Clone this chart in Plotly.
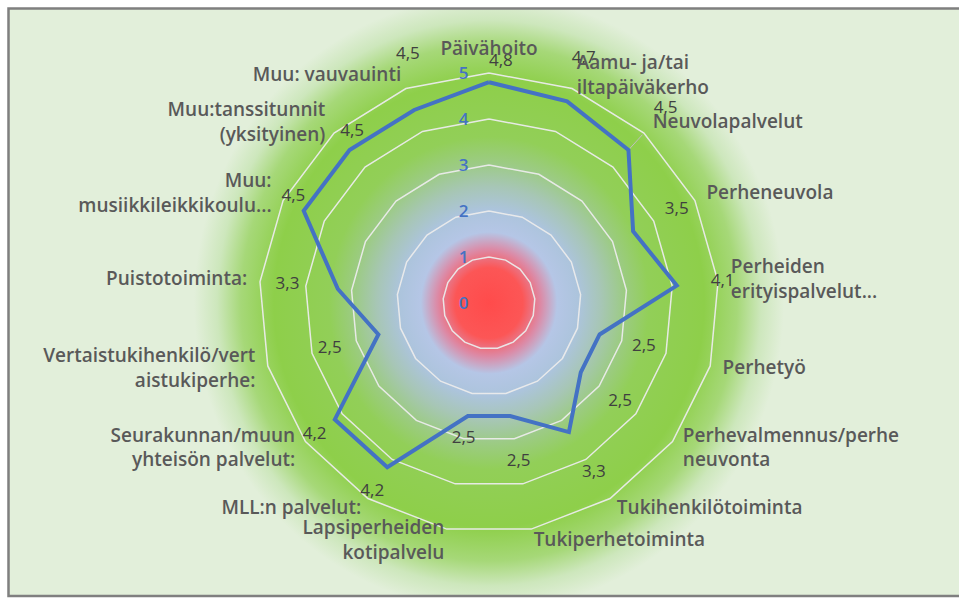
import base64
import plotly.graph_objects as go

categories = [
    "Päivähoito",
    "Aamu- ja/tai<br>iltapäiväkerho",
    "Neuvolapalvelut",
    "Perheneuvola",
    "Perheiden<br>erityispalvelut...",
    "Perhetyö",
    "Perhevalmennus/perhe<br>neuvonta",
    "Tukihenkilötoiminta",
    "Tukiperhetoiminta",
    "Lapsiperheiden<br>kotipalvelu",
    "MLL:n palvelut:",
    "Seurakunnan/muun<br>yhteisön palvelut:",
    "Vertaistukihenkilö/vert<br>aistukiperhe:",
    "Puistotoiminta:",
    "Muu:<br>musiikkileikkikoulu...",
    "Muu:tanssitunnit<br>(yksityinen)",
    "Muu: vauvauinti",
]
values = [4.8, 4.7, 4.5, 3.5, 4.1, 2.5, 2.5, 3.3, 2.5, 2.5, 4.2, 4.2, 2.5, 3.3, 4.5, 4.5, 4.5]
radial_ticks = [0, 1, 2, 3, 4, 5]

# styling: radial distance (axis units) of the value labels beyond each point, and their anchoring
label_offset = [0.25, 1.0, 1.2, 1.06, 1.0, 1.0, 1.07, 1.03, 1.0, 0.5, 0.62, 0.55, 1.1, 1.1, 0.25, 0.3, 1.1]
label_pos = ["top right"] + ["middle center"] * 13 + ["top center", "top right", "top right"]
leader_index = 2          # the value label that has a leader line
leader_len = 0.45
# styling: radius at which category names are anchored
cat_label_r = 5.28
r_max = 6.0  # axis range extends past the outer ring so labels can sit outside it
grid_color = "rgba(235,235,235,0.95)"

W, H = 959, 598
n = len(categories)
positions = []
for i in range(n):
    a = i * 360.0 / n
    if a < 10 or a > 350:
        positions.append("top center")
    elif a < 180:
        positions.append("middle right")
    else:
        positions.append("middle left")

# background radial gradient drawn as an SVG image inside the frame
bx, by, bw, bh = 9, 9, 950, 587
cx, cy = 489 - bx, 303 - by
R = 295.0
stops_px = [
    (0, "#ff4b4b"), (34, "#fc5656"), (52, "#dc8aa6"), (68, "#b5c6e6"),
    (90, "#acc4dc"), (112, "#a7c6b6"), (135, "#9ccb84"), (160, "#92cf58"),
    (215, "#8ecf4a"), (248, "#a6d878"), (272, "#cde7bc"), (295, "#e2efda"),
]
stop_xml = "".join(f'<stop offset="{p / R:.3f}" stop-color="{c}"/>' for p, c in stops_px)
svg = (
    f'<svg xmlns="http://www.w3.org/2000/svg" width="{bw}" height="{bh}" viewBox="0 0 {bw} {bh}" preserveAspectRatio="none">'
    f'<defs><radialGradient id="g" gradientUnits="userSpaceOnUse" cx="{cx}" cy="{cy}" r="{R}" '
    f'gradientTransform="translate({cx} {cy}) scale(1 1.04) translate({-cx} {-cy})">{stop_xml}</radialGradient></defs>'
    f'<rect width="{bw}" height="{bh}" fill="url(#g)"/></svg>'
)
src = "data:image/svg+xml;base64," + base64.b64encode(svg.encode()).decode()

closed_cats = categories + categories[:1]
closed_vals = values + values[:1]

fig = go.Figure()
# polygonal grid rings at each radial tick
for t in radial_ticks[1:]:
    fig.add_trace(go.Scatterpolar(
        r=[t] * (n + 1), theta=closed_cats, mode="lines",
        line=dict(color=grid_color, width=1.5), hoverinfo="skip", showlegend=False,
    ))
# leader line from a point to its label
fig.add_trace(go.Scatterpolar(
    r=[values[leader_index], values[leader_index] + leader_len],
    theta=[categories[leader_index]] * 2, mode="lines",
    line=dict(color="#bfbfbf", width=1), hoverinfo="skip", showlegend=False,
))
fig.add_trace(go.Scatterpolar(
    r=closed_vals, theta=closed_cats, mode="lines",
    line=dict(color="#4472c4", width=4), hoverinfo="skip", showlegend=False,
))
fig.add_trace(go.Scatterpolar(
    r=[v + o for v, o in zip(values, label_offset)], theta=categories, mode="text",
    text=[f"{v:.1f}".replace(".", ",") for v in values], textposition=label_pos,
    textfont=dict(family="Open Sans", size=17, color="#404040"),
    cliponaxis=False, hoverinfo="skip", showlegend=False,
))
fig.add_trace(go.Scatterpolar(
    r=[cat_label_r] * n, theta=categories, mode="text",
    text=categories, textposition=positions,
    textfont=dict(family="Open Sans", size=19, color="#595959", weight=600),
    cliponaxis=False, hoverinfo="skip", showlegend=False,
))

cxp, cyp, ring5 = 489, 303, 230
rad = ring5 * r_max / 5
fig.update_layout(
    width=W, height=H,
    margin=dict(l=0, r=0, t=0, b=0),
    paper_bgcolor="white",
    polar=dict(
        domain=dict(x=[(cxp - rad) / W, (cxp + rad) / W],
                    y=[1 - (cyp + rad) / H, 1 - (cyp - rad) / H]),
        bgcolor="rgba(0,0,0,0)",
        gridshape="linear",
        radialaxis=dict(
            range=[0, r_max], tickvals=radial_ticks, angle=90, tickangle=90,
            showline=False, showgrid=False,
            ticks="outside", ticklen=14, tickcolor="rgba(0,0,0,0)",
            side="counterclockwise",
            tickfont=dict(family="Open Sans", size=17, color="#4472c4", weight=600),
        ),
        angularaxis=dict(
            direction="clockwise", rotation=90, showgrid=False, showline=False,
            linecolor="rgba(0,0,0,0)", linewidth=0,
            showticklabels=False, ticks="",
        ),
    ),
    images=[dict(
        source=src, xref="paper", yref="paper",
        x=bx / W, y=1 - by / H, sizex=bw / W, sizey=bh / H,
        xanchor="left", yanchor="top", sizing="stretch", layer="below",
    )],
    shapes=[dict(
        type="rect", xref="paper", yref="paper",
        x0=8.5 / W, x1=1.02, y0=1 - 596 / H, y1=1 - 8.5 / H,
        line=dict(color="#7f7f7f", width=2.5), fillcolor="rgba(0,0,0,0)",
    )],
)

fig.write_html(
    "out.html",
    config={"displayModeBar": False},
    post_script="document.body.style.margin='0';document.body.style.overflow='hidden';",
)
